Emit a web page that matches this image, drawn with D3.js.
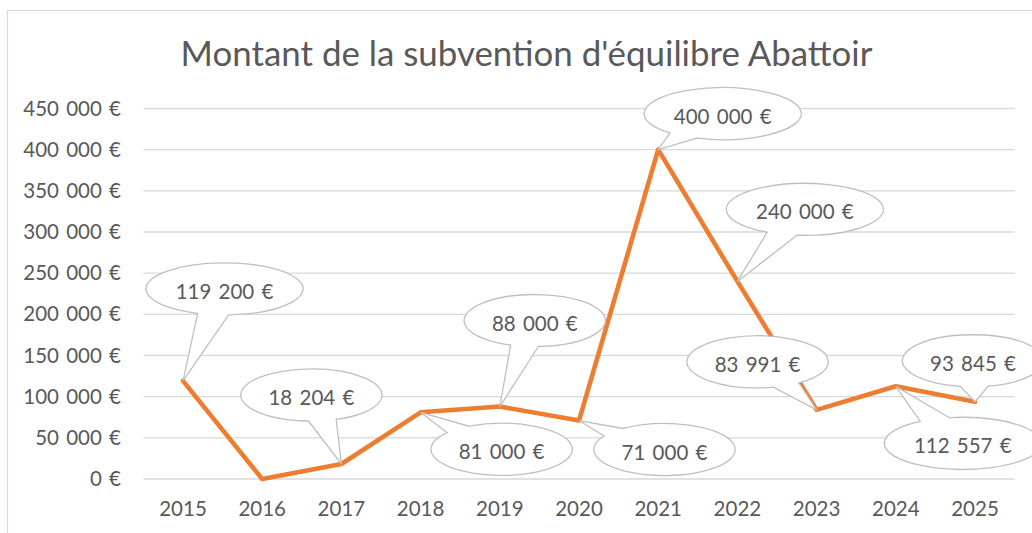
<!DOCTYPE html>
<html>
<head>
<meta charset="utf-8">
<script src="https://cdn.jsdelivr.net/npm/d3@7"></script>
<style>
  html, body { margin: 0; padding: 0; background: #fff; }
  svg { display: block; }
  text { font-family: Lato, "Open Sans", sans-serif; fill: #595959; }
</style>
</head>
<body>
<svg id="chart" width="1032" height="533"></svg>
<script>
// ---- data ----
const title = "Montant de la subvention d'équilibre Abattoir";
const years = ["2015","2016","2017","2018","2019","2020","2021","2022","2023","2024","2025"];
const values = [119200, 0, 18204, 81000, 88000, 71000, 400000, 240000, 83991, 112557, 93845];
const labeled = [true, false, true, true, true, true, true, true, true, true, true];
const yTicks = [0, 50000, 100000, 150000, 200000, 250000, 300000, 350000, 400000, 450000];

// ---- layout (callout offsets from the data point, pixels) ----
const calloutOffsets = [[41.5,-92], null, [-30,-69], [81,37], [35,-86], [85.5,29], [64.5,-36], [67.5,-72], [-59,-48], [67,57], [-2,-41]];

const fr = d3.formatLocale({decimal: ",", thousands: " ", grouping: [3], currency: ["", " €"]});
const fmt = v => fr.format(",")(v) + " €";

const svg = d3.select("#chart");
const W = 1032, H = 533;

// chart frame
svg.append("rect").attr("x", 7.5).attr("y", 10.5).attr("width", W + 20).attr("height", H + 20)
  .attr("fill", "#fff").attr("stroke", "#d9d9d9").attr("stroke-width", 1.2);

const x = d3.scaleBand().domain(years).range([143.4, 1014.6]).padding(0);
const y = d3.scaleLinear().domain([0, 450000]).range([479, 108.5]);

// title
const t = svg.append("text").attr("x", 526.5).attr("y", 66).attr("text-anchor", "middle")
  .style("font-size", "32px").text(title);
const tw = t.node().getComputedTextLength();
t.style("font-size", (32 * 692 / tw) + "px");

// gridlines
svg.append("g").selectAll("line").data(yTicks).join("line")
  .attr("x1", x.range()[0]).attr("x2", x.range()[1])
  .attr("y1", d => y(d)).attr("y2", d => y(d))
  .attr("stroke", "#d9d9d9").attr("stroke-width", 1.3);

// y axis labels
const yAxis = d3.axisLeft(y).tickValues(yTicks).tickFormat(fmt).tickSize(0).tickPadding(0);
const gy = svg.append("g").attr("transform", "translate(121,0)").call(yAxis);
gy.select(".domain").remove();
gy.selectAll("text").style("font-size", "20.5px").attr("fill", "#595959")
  .style("font-family", "Lato, sans-serif").style("word-spacing", "2px");

// x axis labels
const xAxis = d3.axisBottom(x).tickSize(0).tickPadding(0);
const gx = svg.append("g").attr("transform", "translate(0,516)").call(xAxis);
gx.select(".domain").remove();
gx.selectAll("text").attr("dy", 0).attr("y", 0).style("font-size", "20.5px").attr("fill", "#595959")
  .style("font-family", "Lato, sans-serif");

// line
const pts = years.map((yr, i) => ({yr, v: values[i], i, px: x(yr) + x.bandwidth() / 2, py: y(values[i])}));
svg.append("path").datum(pts)
  .attr("d", d3.line().x(d => d.px).y(d => d.py))
  .attr("fill", "none").attr("stroke", "#ED7D31").attr("stroke-width", 4.6)
  .attr("stroke-linejoin", "round").attr("stroke-linecap", "round");

// callouts
function calloutPath(cx, cy, rx, ry, tx, ty) {
  const th = Math.atan2((ty - cy) / ry, (tx - cx) / rx);
  const dl = 0.2;
  const b1 = [cx + rx * Math.cos(th - dl), cy + ry * Math.sin(th - dl)];
  const b2 = [cx + rx * Math.cos(th + dl), cy + ry * Math.sin(th + dl)];
  return `M${b1[0]},${b1[1]}L${tx},${ty}L${b2[0]},${b2[1]}A${rx},${ry} 0 1 1 ${b1[0]},${b1[1]}Z`;
}
const lab = svg.append("g");
pts.filter(d => labeled[d.i]).forEach(d => {
  const off = calloutOffsets[d.i];
  const s = fmt(d.v);
  const cx = d.px + off[0], cy = d.py + off[1];
  const rx = 7.9 * s.length + 7.5, ry = 26;
  lab.append("path").attr("d", calloutPath(cx, cy, rx, ry, d.px, d.py))
    .attr("fill", "#fff").attr("stroke", "#bfbfbf").attr("stroke-width", 1.3);
  lab.append("text").attr("x", cx).attr("y", cy + 2).attr("text-anchor", "middle")
    .attr("dominant-baseline", "central").style("font-size", "20.5px").style("word-spacing", "2px").text(s);
});
</script>
</body>
</html>
